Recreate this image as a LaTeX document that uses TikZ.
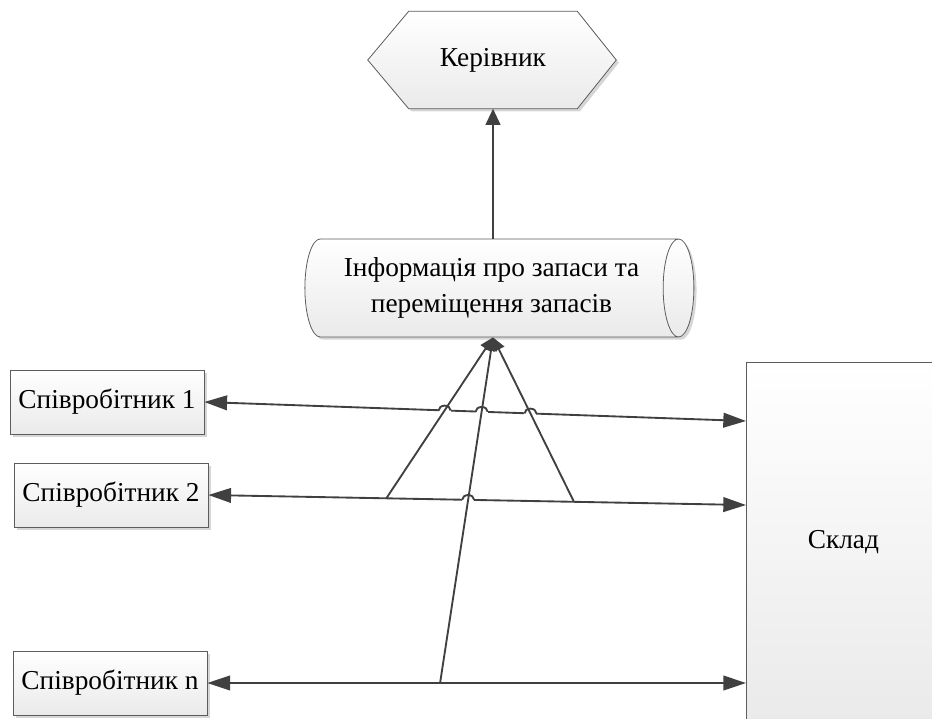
\documentclass[tikz,border=0pt]{standalone}
\usepackage{fontspec}
\setmainfont{LiberationSerif}[Extension=.ttf,UprightFont=*-Regular,BoldFont=*-Bold]
\usetikzlibrary{positioning,shapes.geometric,arrows.meta,intersections,calc,shadows,backgrounds}
\definecolor{linegray}{HTML}{404040}
\definecolor{edgegray}{HTML}{5C5C5C}
\definecolor{fillgray}{HTML}{EAEAEA}
\definecolor{shadowgray}{HTML}{D6D6D6}

\begin{document}
\begin{tikzpicture}[x=0.75pt,y=-0.75pt,
    every node/.style={font=\rmfamily\fontsize{20.5}{27.5}\selectfont},
    shaded/.style={draw=edgegray,line width=0.6pt,top color=white,bottom color=fillgray},
    shadowed/.style={drop shadow={shadow xshift=2pt,shadow yshift=-2pt,fill=shadowgray,opacity=1}},
    worker/.style={rectangle,shaded,shadowed,minimum width=145.5pt,minimum height=48pt,inner sep=0pt},
    link/.style={draw=linegray,line width=1.4pt},
    twoway/.style={link,{Triangle[length=17pt,width=11pt]}-{Triangle[length=17pt,width=11pt]}},
    toinfo/.style={link,-{Triangle[length=10pt,width=9pt]}}]
  \path[use as bounding box,clip] (0,0) rectangle (932,718);

  % manager
  \node[minimum width=126pt,minimum height=72.75pt,inner sep=0pt] (boss) at (493,60) {Керівник};
  \begin{scope}[on background layer]
    \path[shaded,shadowed] (boss.north west) -- (boss.north east) -- ($(boss.east)+(39,0)$)
      -- (boss.south east) -- (boss.south west) -- ($(boss.west)+(-41,0)$) -- cycle;
  \end{scope}

  % stock information
  \node[cylinder,shape border rotate=0,aspect=0.5,shaded,shadowed,align=center,
    minimum height=291.75pt,minimum width=73.5pt,inner sep=0pt] (info) at (491.5,288)
    {Інформація про запаси та\\переміщення запасів};

  % employees and warehouse
  \node[worker] (e1) at (107,402) {Співробітник 1};
  \node[worker] (e2) at (111,495) {Співробітник 2};
  \node[worker] (en) at (110,683) {Співробітник n};
  \node[rectangle,shaded,anchor=north west,minimum width=145.5pt,minimum height=270pt] (sklad) at (746,362) {Склад};

  \coordinate (s1) at (746,421);
  \coordinate (s2) at (746,505);
  \coordinate (sn) at (746,683);
  \coordinate (hub) at (boss.south |- info.south);
  \coordinate (d1) at ($(e2.east)!0.331!(s2)$);
  \coordinate (d2) at ($(en.east)!0.432!(sn)$);
  \coordinate (d3) at ($(e2.east)!0.68!(s2)$);

  \draw[link,-{Triangle[length=12pt,width=11pt]}] (boss.south |- info.north) -- (boss.south);

  \draw[twoway,name path=row1] (e1.east) -- (s1);
  \draw[twoway,name path=row2] (e2.east) -- (s2);
  \draw[twoway] (en.east) -- (sn);

  \path[name path=diag1] (d1) -- (hub);
  \path[name path=diag2] (d2) -- (hub);
  \path[name path=diag3] (d3) -- (hub);
  \path[name intersections={of=row1 and diag1,by=h1}];
  \path[name intersections={of=row1 and diag2,by=h2}];
  \path[name intersections={of=row1 and diag3,by=h3}];
  \path[name intersections={of=row2 and diag2,by=h4}];

  % line jumps
  \foreach \h in {h1,h2,h3,h4} {
    \draw[white,line width=3pt] ($(\h)+(-6,0)$) -- ($(\h)+(6,0)$);
    \draw[link] ($(\h)+(-6,0)$) arc[start angle=180,end angle=0,x radius=4.5pt,y radius=3.6pt];
  }

  \draw[toinfo] (d1) -- (hub);
  \draw[toinfo] (d2) -- (hub);
  \draw[toinfo] (d3) -- (hub);
\end{tikzpicture}
\end{document}
